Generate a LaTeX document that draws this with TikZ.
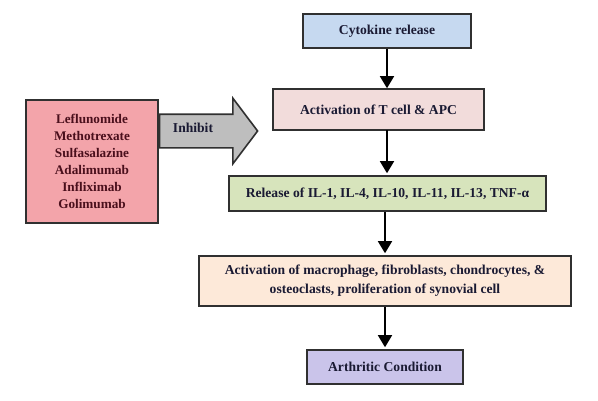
\documentclass[tikz,border=0pt]{standalone}
\usepackage{fontspec}
\setmainfont{Liberation Serif}
\usetikzlibrary{arrows.meta,shapes.arrows}
\definecolor{txtdark}{HTML}{1A1A33}
\definecolor{drugtxt}{HTML}{4A0F1C}
\definecolor{boxline}{HTML}{303030}
\definecolor{cytoblue}{HTML}{C6D9F0}
\definecolor{tpink}{HTML}{F2DCDB}
\definecolor{relgreen}{HTML}{D7E4BC}
\definecolor{macpeach}{HTML}{FDE9D9}
\definecolor{arthpurple}{HTML}{CAC4EA}
\definecolor{drugred}{HTML}{F3A4AA}
\definecolor{inhgray}{HTML}{BEBEBE}

\begin{document}
\begin{tikzpicture}[x=1pt,y=-1pt]
\tikzstyle{every node}+=[font=\bfseries\fontsize{13.6}{19}\selectfont, text=txtdark]
\tikzstyle{stage}=[draw=boxline, line width=1.6pt, align=center, inner sep=0pt]
\tikzstyle{flow}=[black, line width=1.6pt, -{Triangle[width=14pt,length=12pt]}]
\useasboundingbox (0,0) rectangle (598,400);
% main chain
\node [stage, fill=cytoblue, minimum width=168, minimum height=34] (cyto) at (387,31) {Cytokine release};
\node [stage, fill=tpink, minimum width=211, minimum height=41] (tcell) at (378.5,109.5) {Activation of T cell \& APC};
\node [stage, fill=relgreen, minimum width=317, minimum height=35] (rel) at (387.5,193.5) {Release of IL-1, IL-4, IL-10, IL-11, IL-13, TNF-α};
\node [stage, fill=macpeach, minimum width=372, minimum height=50] (mac) at (385,281) {Activation of macrophage, fibroblasts, chondrocytes, \&\\osteoclasts, proliferation of synovial cell};
\node [stage, fill=arthpurple, minimum width=156, minimum height=34] (arth) at (385,367) {Arthritic Condition};
% drugs
\node [stage, fill=drugred, text=drugtxt, minimum width=132, minimum height=123, font=\bfseries\fontsize{13.2}{17}\selectfont] (drugs) at (92,161.5) {Leflunomide\\Methotrexate\\Sulfasalazine\\Adalimumab\\Infliximab\\Golimumab};
\node [single arrow, draw=boxline, fill=inhgray, line width=1.6pt, anchor=tail, minimum height=98, minimum width=64, single arrow head extend=16pt, single arrow tip angle=106, inner xsep=0pt, inner ysep=16pt] (inh) at ([yshift=30.5pt]drugs.east) {};
\node (inhtxt) at (193,128) {Inhibit};
% arrows
\draw [flow] (cyto.south) -- (cyto.south |- tcell.north);
\draw [flow] (387,130) -- ([yshift=2pt]rel.north -| 387,0);
\draw [flow] (mac.north |- rel.south) -- ([yshift=2pt]mac.north);
\draw [flow] (mac.south) -- ([yshift=2pt]arth.north);
\end{tikzpicture}
\end{document}
